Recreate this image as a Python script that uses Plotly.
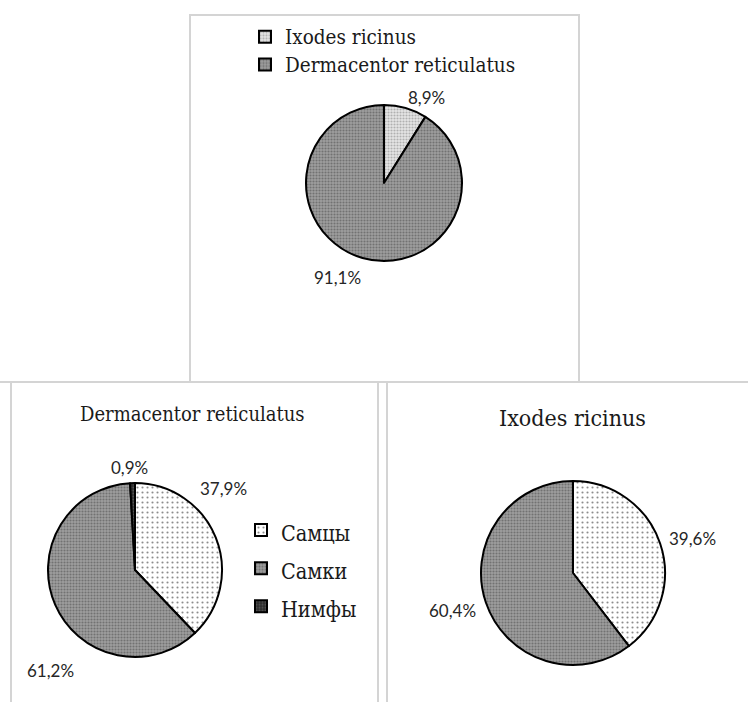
import plotly.graph_objects as go

W, H = 748, 702

# Species composition of collected ticks
species = ["Ixodes ricinus", "Dermacentor reticulatus"]
species_share = [8.9, 91.1]

# Developmental stages / sex of Dermacentor reticulatus
derm_stages = ["Самцы", "Самки", "Нимфы"]
derm_share = [37.9, 61.2, 0.9]

# Sex ratio of Ixodes ricinus
ixodes_stages = ["Самцы", "Самки"]
ixodes_share = [39.6, 60.4]

SERIF = "DejaVu Serif Condensed, DejaVu Serif"
SANS = "Lato"

# fill styles (bg, fg, pattern size, solidity)
STYLE = {
    "dots": ("#ffffff", "#8c8c8c", 5, 0.14),
    "light": ("#e6e6e6", "#b0b0b0", 3, 0.4),
    "grey": ("#9e9e9e", "#727272", 3, 0.4),
    "dark": ("#2a2a2a", "#555555", 3, 0.4),
}


def marker_for(styles):
    bg = [STYLE[s][0] for s in styles]
    fg = [STYLE[s][1] for s in styles]
    size = [STYLE[s][2] for s in styles]
    sol = [STYLE[s][3] for s in styles]
    return dict(
        colors=bg,
        line=dict(color="#000000", width=2),
        pattern=dict(shape=".", bgcolor=bg, fgcolor=fg, size=size,
                     solidity=sol, fillmode="replace"),
    )


def px_x(x):
    return x / W


def px_y(y):
    return 1 - y / H


def domain(cx, cy, r):
    return dict(x=[px_x(cx - r), px_x(cx + r)], y=[px_y(cy + r), px_y(cy - r)])


def pct(v):
    return f"{v:.1f}".replace(".", ",") + "%"


def legend_label(name, size=20):
    # legend rows are spaced by the legend font; the visible text keeps its own size
    return f'<span style="font-size:{size}px">{name}</span>'


common = dict(sort=False, direction="clockwise", rotation=0, textinfo="none",
              hovertemplate="%{percent}<extra></extra>")

fig = go.Figure()
fig.add_trace(go.Pie(labels=[legend_label(s, 20.5) for s in species],
                     values=species_share,
                     marker=marker_for(["light", "grey"]),
                     domain=domain(384, 183, 78), legend="legend", **common))
fig.add_trace(go.Pie(labels=[legend_label(s, 21.5) for s in derm_stages],
                     values=derm_share,
                     marker=marker_for(["dots", "grey", "dark"]),
                     domain=domain(135, 570, 87), legend="legend2", **common))
fig.add_trace(go.Pie(labels=ixodes_stages, values=ixodes_share,
                     marker=marker_for(["dots", "grey"]),
                     domain=domain(573, 573, 92), showlegend=False, **common))

# panel frames
frame = dict(type="rect", xref="paper", yref="paper",
             line=dict(color="#d4d4d4", width=2), fillcolor="rgba(0,0,0,0)",
             layer="below")
shapes = [
    dict(frame, x0=px_x(190), x1=px_x(579), y0=px_y(15), y1=px_y(382)),
    dict(frame, x0=px_x(11), x1=px_x(378), y0=px_y(382), y1=px_y(706)),
    dict(frame, x0=px_x(387), x1=px_x(756), y0=px_y(382), y1=px_y(706)),
    dict(type="line", xref="paper", yref="paper", x0=0, x1=px_x(11),
         y0=px_y(382), y1=px_y(382), line=dict(color="#d4d4d4", width=2)),
]

# percentage labels next to the slices
label_pos = [
    (species_share[0], 427, 97), (species_share[1], 337, 277),
    (derm_share[2], 129, 467), (derm_share[0], 224, 488), (derm_share[1], 50, 670),
    (ixodes_share[0], 692, 538), (ixodes_share[1], 452, 610),
]
annotations = [
    dict(text=pct(v), x=px_x(x), y=px_y(y), xref="paper", yref="paper",
         showarrow=False, xanchor="center", yanchor="middle",
         font=dict(family=SANS, size=17, color="#262626"))
    for v, x, y in label_pos
]
annotations += [
    dict(text="Dermacentor reticulatus", x=px_x(193), y=px_y(414), xref="paper",
         yref="paper", showarrow=False, xanchor="center", yanchor="middle",
         font=dict(family=SERIF, size=20, color="#1a1a1a")),
    dict(text="Ixodes ricinus", x=px_x(572), y=px_y(418), xref="paper",
         yref="paper", showarrow=False, xanchor="center", yanchor="middle",
         font=dict(family=SERIF, size=23, color="#1a1a1a")),
]

legend_common = dict(xanchor="left", yanchor="top", bgcolor="rgba(0,0,0,0)",
                     borderwidth=0, itemclick=False, itemdoubleclick=False,
                     traceorder="normal")

fig.update_layout(
    width=W, height=H,
    margin=dict(l=0, r=0, t=0, b=0),
    paper_bgcolor="white", plot_bgcolor="white",
    shapes=shapes, annotations=annotations,
    legend=dict(legend_common, x=px_x(245), y=px_y(18),
                font=dict(family=SERIF, size=19, color="#1a1a1a")),
    legend2=dict(legend_common, x=px_x(241), y=px_y(506),
                 font=dict(family=SERIF, size=27, color="#1a1a1a")),
)

fig.write_html("out.html")
